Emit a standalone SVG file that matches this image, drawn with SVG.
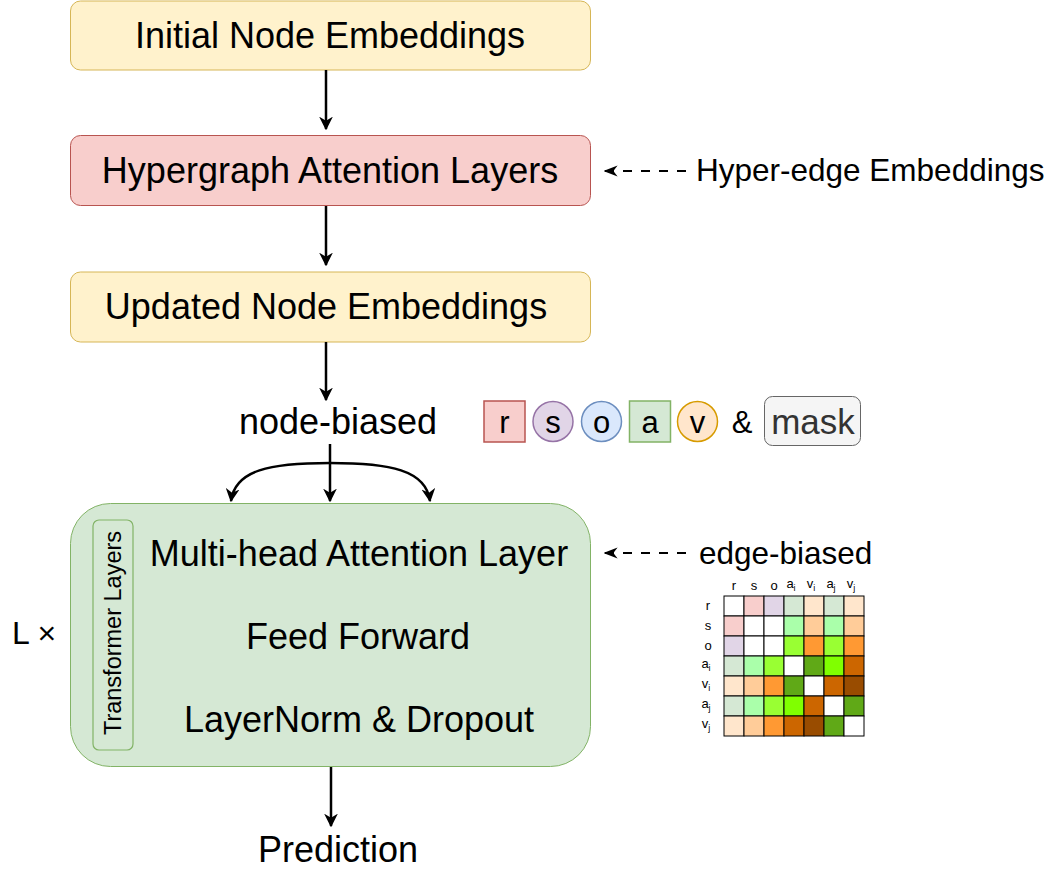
<svg xmlns="http://www.w3.org/2000/svg" width="1062" height="881" viewBox="0 0 1062 881">
<defs>
<style>
text{font-family:"Liberation Sans",Arial,sans-serif;fill:#000}
.big{font-size:36px;text-anchor:middle}
.side{font-size:31.5px}
.leg{font-size:31px;text-anchor:middle}
.ml{font-size:13px;text-anchor:middle}
.line{stroke:#000;stroke-width:2.5;fill:none}
.dash{stroke:#000;stroke-width:2;fill:none;stroke-dasharray:9 9}
.grid rect{stroke:#000;stroke-width:1}
</style>
<marker id="ah" viewBox="0 0 10 10" refX="9" refY="5" markerWidth="5.5" markerHeight="5.5" orient="auto" markerUnits="strokeWidth">
<path d="M0,0 L10,5 L0,10 L3,5 Z" fill="#000"/>
</marker>
<marker id="ahs" viewBox="0 0 10 10" refX="9" refY="5" markerWidth="7" markerHeight="7" orient="auto" markerUnits="strokeWidth">
<path d="M0,1 L10,5 L0,9 L3,5 Z" fill="#000"/>
</marker>
</defs>
<rect width="1062" height="881" fill="#fff"/>

<g id="initial">
<rect x="70.5" y="1" width="520" height="69" rx="10" fill="#fff2cc" stroke="#d6b656" stroke-width="1"/>
<text class="big" x="330" y="48">Initial Node Embeddings</text>
</g>
<g id="hypergraph">
<rect x="70.5" y="135.5" width="520" height="70" rx="10" fill="#f8cecc" stroke="#b85450" stroke-width="1"/>
<text class="big" x="330" y="183">Hypergraph Attention Layers</text>
</g>
<g id="updated">
<rect x="70.5" y="272" width="520" height="70" rx="10" fill="#fff2cc" stroke="#d6b656" stroke-width="1"/>
<text class="big" x="326" y="319">Updated Node Embeddings</text>
</g>
<g id="nodebiased">
<text class="big" x="338" y="434">node-biased</text>
</g>
<g id="transformer">
<rect x="70.5" y="503.5" width="520" height="263" rx="40" fill="#d5e8d4" stroke="#82b366" stroke-width="1"/>
<rect x="93" y="520" width="40" height="230" rx="6" fill="#d5e8d4" stroke="#82b366" stroke-width="1.2"/>
<text font-size="23.5" text-anchor="middle" transform="translate(121,633) rotate(-90)">Transformer Layers</text>
<text class="big" x="359" y="566">Multi-head Attention Layer</text>
<text class="big" x="358" y="649">Feed Forward</text>
<text class="big" x="359" y="732">LayerNorm &amp; Dropout</text>
</g>
<g id="lx">
<text x="12" y="644" font-size="32">L ×</text>
</g>
<g id="prediction">
<text class="big" x="338" y="862">Prediction</text>
</g>
<g id="hyperedge">
<text class="side" x="696" y="181">Hyper-edge Embeddings</text>
</g>
<g id="edgebiased">
<text class="side" x="699" y="564">edge-biased</text>
</g>

<g id="legend">
<rect x="484" y="401" width="41" height="41" fill="#f8cecc" stroke="#b85450" stroke-width="1.5"/>
<text class="leg" x="504.5" y="433">r</text>
<circle cx="553" cy="421.5" r="20" fill="#e1d5e7" stroke="#9673a6" stroke-width="1.5"/>
<text class="leg" x="553" y="433">s</text>
<circle cx="601.5" cy="421.5" r="20" fill="#dae8fc" stroke="#6c8ebf" stroke-width="1.5"/>
<text class="leg" x="601.5" y="433">o</text>
<rect x="629.5" y="401" width="41" height="41" fill="#d5e8d4" stroke="#82b366" stroke-width="1.5"/>
<text class="leg" x="650" y="433">a</text>
<circle cx="697.5" cy="421.5" r="20" fill="#ffe6cc" stroke="#d79b00" stroke-width="1.5"/>
<text class="leg" x="697.5" y="433">v</text>
<text class="leg" x="742" y="433">&amp;</text>
<rect x="764.5" y="396.5" width="96" height="49" rx="8" fill="#f5f5f5" stroke="#666666" stroke-width="1"/>
<text x="813" y="434" text-anchor="middle" style="font-size:35px;fill:#333333">mask</text>
</g>

<g id="matrix">
<g>
<text class="ml" x="734" y="590">r</text>
<text class="ml" x="754" y="590">s</text>
<text class="ml" x="774" y="590">o</text>
<text class="ml" x="791" y="588">a<tspan font-size="9" dy="3">i</tspan></text>
<text class="ml" x="811" y="588">v<tspan font-size="9" dy="3">i</tspan></text>
<text class="ml" x="831" y="588">a<tspan font-size="9" dy="3">j</tspan></text>
<text class="ml" x="851" y="588">v<tspan font-size="9" dy="3">j</tspan></text>
<text class="ml" x="708" y="610">r</text>
<text class="ml" x="708" y="630">s</text>
<text class="ml" x="708" y="650">o</text>
<text class="ml" x="706" y="668">a<tspan font-size="9" dy="3">i</tspan></text>
<text class="ml" x="706" y="688">v<tspan font-size="9" dy="3">i</tspan></text>
<text class="ml" x="706" y="708">a<tspan font-size="9" dy="3">j</tspan></text>
<text class="ml" x="706" y="728">v<tspan font-size="9" dy="3">j</tspan></text>
</g>
<g class="grid">
<rect x="724" y="596" width="20" height="20" fill="#ffffff"/>
<rect x="744" y="596" width="20" height="20" fill="#f8cecc"/>
<rect x="764" y="596" width="20" height="20" fill="#e1d5e7"/>
<rect x="784" y="596" width="20" height="20" fill="#d5e8d4"/>
<rect x="804" y="596" width="20" height="20" fill="#ffe6cc"/>
<rect x="824" y="596" width="20" height="20" fill="#d5e8d4"/>
<rect x="844" y="596" width="20" height="20" fill="#ffe6cc"/>

<rect x="724" y="616" width="20" height="20" fill="#f8cecc"/>
<rect x="744" y="616" width="20" height="20" fill="#ffffff"/>
<rect x="764" y="616" width="20" height="20" fill="#ffffff"/>
<rect x="784" y="616" width="20" height="20" fill="#aaffaa"/>
<rect x="804" y="616" width="20" height="20" fill="#ffcc99"/>
<rect x="824" y="616" width="20" height="20" fill="#aaffaa"/>
<rect x="844" y="616" width="20" height="20" fill="#ffcc99"/>

<rect x="724" y="636" width="20" height="20" fill="#e1d5e7"/>
<rect x="744" y="636" width="20" height="20" fill="#ffffff"/>
<rect x="764" y="636" width="20" height="20" fill="#ffffff"/>
<rect x="784" y="636" width="20" height="20" fill="#99ff33"/>
<rect x="804" y="636" width="20" height="20" fill="#ff9933"/>
<rect x="824" y="636" width="20" height="20" fill="#99ff33"/>
<rect x="844" y="636" width="20" height="20" fill="#ff9933"/>

<rect x="724" y="656" width="20" height="20" fill="#d5e8d4"/>
<rect x="744" y="656" width="20" height="20" fill="#aaffaa"/>
<rect x="764" y="656" width="20" height="20" fill="#99ff33"/>
<rect x="784" y="656" width="20" height="20" fill="#ffffff"/>
<rect x="804" y="656" width="20" height="20" fill="#60a917"/>
<rect x="824" y="656" width="20" height="20" fill="#80ff00"/>
<rect x="844" y="656" width="20" height="20" fill="#cc6600"/>

<rect x="724" y="676" width="20" height="20" fill="#ffe6cc"/>
<rect x="744" y="676" width="20" height="20" fill="#ffcc99"/>
<rect x="764" y="676" width="20" height="20" fill="#ff9933"/>
<rect x="784" y="676" width="20" height="20" fill="#60a917"/>
<rect x="804" y="676" width="20" height="20" fill="#ffffff"/>
<rect x="824" y="676" width="20" height="20" fill="#cc6600"/>
<rect x="844" y="676" width="20" height="20" fill="#994c00"/>

<rect x="724" y="696" width="20" height="20" fill="#d5e8d4"/>
<rect x="744" y="696" width="20" height="20" fill="#aaffaa"/>
<rect x="764" y="696" width="20" height="20" fill="#99ff33"/>
<rect x="784" y="696" width="20" height="20" fill="#80ff00"/>
<rect x="804" y="696" width="20" height="20" fill="#cc6600"/>
<rect x="824" y="696" width="20" height="20" fill="#ffffff"/>
<rect x="844" y="696" width="20" height="20" fill="#60a917"/>

<rect x="724" y="716" width="20" height="20" fill="#ffe6cc"/>
<rect x="744" y="716" width="20" height="20" fill="#ffcc99"/>
<rect x="764" y="716" width="20" height="20" fill="#ff9933"/>
<rect x="784" y="716" width="20" height="20" fill="#cc6600"/>
<rect x="804" y="716" width="20" height="20" fill="#994c00"/>
<rect x="824" y="716" width="20" height="20" fill="#60a917"/>
<rect x="844" y="716" width="20" height="20" fill="#ffffff"/>
</g>
</g>

<g id="connectors">
<line class="line" x1="326" y1="70" x2="326" y2="129" marker-end="url(#ah)"/>
<line class="line" x1="326" y1="206" x2="326" y2="265" marker-end="url(#ah)"/>
<line class="line" x1="326" y1="342" x2="326" y2="400" marker-end="url(#ah)"/>
<line class="line" x1="330" y1="444" x2="330" y2="501" marker-end="url(#ah)"/>
<path class="line" d="M330,463 C270,463 235,470 231,501" marker-end="url(#ah)"/>
<path class="line" d="M330,463 C390,463 426,470 430,501" marker-end="url(#ah)"/>
<line class="line" x1="331" y1="767" x2="331" y2="826" marker-end="url(#ah)"/>
<line class="dash" x1="686" y1="171" x2="605" y2="171" marker-end="url(#ahs)"/>
<line class="dash" x1="686" y1="553" x2="605" y2="553" marker-end="url(#ahs)"/>
</g>
</svg>
